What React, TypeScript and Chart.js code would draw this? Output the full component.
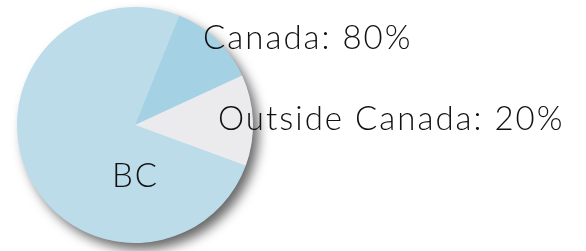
import React, { useEffect, useRef } from "react";
import { Chart, registerables } from "chart.js";

Chart.register(...registerables);

const categories = ["Canada", "Outside Canada", "BC"];
const sliceValues = [12, 12.5, 75.5];
const labelTexts = ["Canada: 80%", "Outside Canada: 20%", "BC"];
const sliceColors = ["#a5d1e4", "#ebebed", "#bcdce9"];

const FONT = "300 33px Lato, 'Open Sans', sans-serif";

const shadowPlugin = {
  id: "pieShadow",
  beforeDatasetsDraw(chart: any) {
    const meta = chart.getDatasetMeta(0);
    const arc = meta.data[0];
    if (!arc) return;
    const { x, y, outerRadius } = arc.getProps(["x", "y", "outerRadius"], true);
    const ctx = chart.ctx;
    ctx.save();
    ctx.shadowColor = "rgba(0,0,0,0.6)";
    ctx.shadowBlur = 12;
    ctx.shadowOffsetX = 6;
    ctx.shadowOffsetY = 7;
    ctx.beginPath();
    ctx.arc(x, y, outerRadius - 0.5, 0, Math.PI * 2);
    ctx.fillStyle = sliceColors[2];
    ctx.fill();
    ctx.restore();
  },
};

const labelPlugin = {
  id: "sliceLabels",
  afterDraw(chart: any) {
    const ctx = chart.ctx;
    const positions = [
      [203, 49],
      [218, 130],
      [112, 187],
    ];
    ctx.save();
    ctx.font = FONT;
    (ctx as any).letterSpacing = "2px";
    ctx.fillStyle = "#111";
    ctx.textAlign = "left";
    ctx.textBaseline = "alphabetic";
    labelTexts.forEach((t, i) => {
      ctx.fillText(t, positions[i][0], positions[i][1]);
    });
    ctx.restore();
  },
};

export default function App() {
  const ref = useRef<HTMLCanvasElement | null>(null);
  useEffect(() => {
    document.body.style.margin = "0";
    const chart = new Chart(ref.current as HTMLCanvasElement, {
      type: "pie",
      data: {
        labels: categories,
        datasets: [
          {
            data: sliceValues,
            backgroundColor: sliceColors,
            borderWidth: 0,
          },
        ],
      },
      options: {
        responsive: false,
        animation: false,
        rotation: 22,
        layout: { padding: { left: 17, right: 333, top: 7, bottom: 8 } },
        plugins: {
          legend: { display: false },
          tooltip: { enabled: false },
        },
      },
      plugins: [shadowPlugin, labelPlugin],
    });
    return () => chart.destroy();
  }, []);
  return (
    <div style={{ width: 586, height: 251, background: "#fff" }}>
      <canvas ref={ref} width={586} height={251} />
    </div>
  );
}
